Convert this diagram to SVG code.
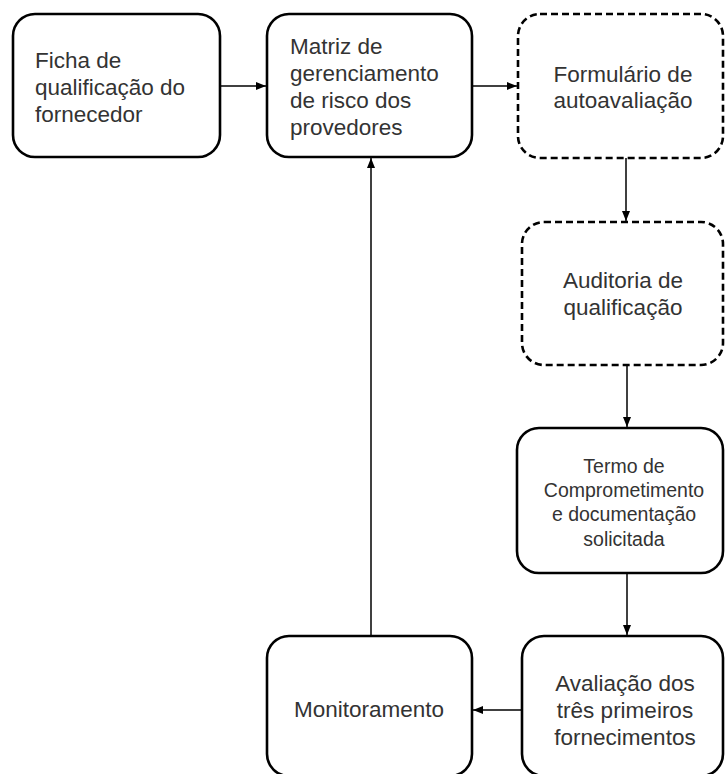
<svg xmlns="http://www.w3.org/2000/svg" width="725" height="774" viewBox="0 0 725 774">
<style>
.box{fill:#fff;stroke:#000;stroke-width:2.6}
.dash{stroke-dasharray:7 4}
.t{font-family:"Liberation Sans",Arial,sans-serif;font-size:22.5px;fill:#333}
.s{font-size:19.5px}
.c{text-anchor:middle}
.ln{stroke:#000;stroke-width:1.5;fill:none;marker-end:url(#ah)}
</style>
<defs>
<marker id="ah" viewBox="0 0 10 10" refX="10" refY="5" markerWidth="10" markerHeight="10" markerUnits="userSpaceOnUse" orient="auto">
<path d="M0,1 L10,5 L0,9 Z" fill="#000"/>
</marker>
</defs>
<rect width="725" height="774" fill="#fff"/>
<g id="connectors">
<line class="ln" x1="220" y1="86" x2="266" y2="86"/>
<line class="ln" x1="472" y1="86" x2="517" y2="86"/>
<line class="ln" x1="626" y1="158" x2="626" y2="221"/>
<line class="ln" x1="627" y1="365" x2="627" y2="427"/>
<line class="ln" x1="627" y1="573" x2="627" y2="635"/>
<line class="ln" x1="522" y1="710" x2="473" y2="710"/>
<line class="ln" x1="371" y1="636" x2="371" y2="158"/>
</g>
<g id="ficha">
<rect class="box" x="13" y="14" width="207" height="143" rx="22"/>
<text class="t" x="35"><tspan x="35" y="68">Ficha de</tspan><tspan x="35" y="95">qualificação do</tspan><tspan x="35" y="122">fornecedor</tspan></text>
</g>
<g id="matriz">
<rect class="box" x="267" y="14" width="205" height="143" rx="22"/>
<text class="t" x="290"><tspan x="290" y="54">Matriz de</tspan><tspan x="290" y="81">gerenciamento</tspan><tspan x="290" y="108">de risco dos</tspan><tspan x="290" y="135">provedores</tspan></text>
</g>
<g id="formulario">
<rect class="box dash" x="518" y="14" width="205" height="144" rx="22"/>
<text class="t c"><tspan x="623" y="82">Formulário de</tspan><tspan x="623" y="108">autoavaliação</tspan></text>
</g>
<g id="auditoria">
<rect class="box dash" x="522" y="222" width="201" height="143" rx="22"/>
<text class="t c"><tspan x="623" y="288">Auditoria de</tspan><tspan x="623" y="315">qualificação</tspan></text>
</g>
<g id="termo">
<rect class="box" x="517" y="428" width="206" height="145" rx="22"/>
<text class="t s c"><tspan x="624" y="473">Termo de</tspan><tspan x="624" y="497">Comprometimento</tspan><tspan x="624" y="521">e documentação</tspan><tspan x="624" y="546">solicitada</tspan></text>
</g>
<g id="avaliacao">
<rect class="box" x="522" y="636" width="201" height="140" rx="22"/>
<text class="t c"><tspan x="625" y="691">Avaliação dos</tspan><tspan x="625" y="718">três primeiros</tspan><tspan x="625" y="745">fornecimentos</tspan></text>
</g>
<g id="monitoramento">
<rect class="box" x="267" y="636" width="205" height="140" rx="22"/>
<text class="t c" x="369" y="717">Monitoramento</text>
</g>
</svg>
